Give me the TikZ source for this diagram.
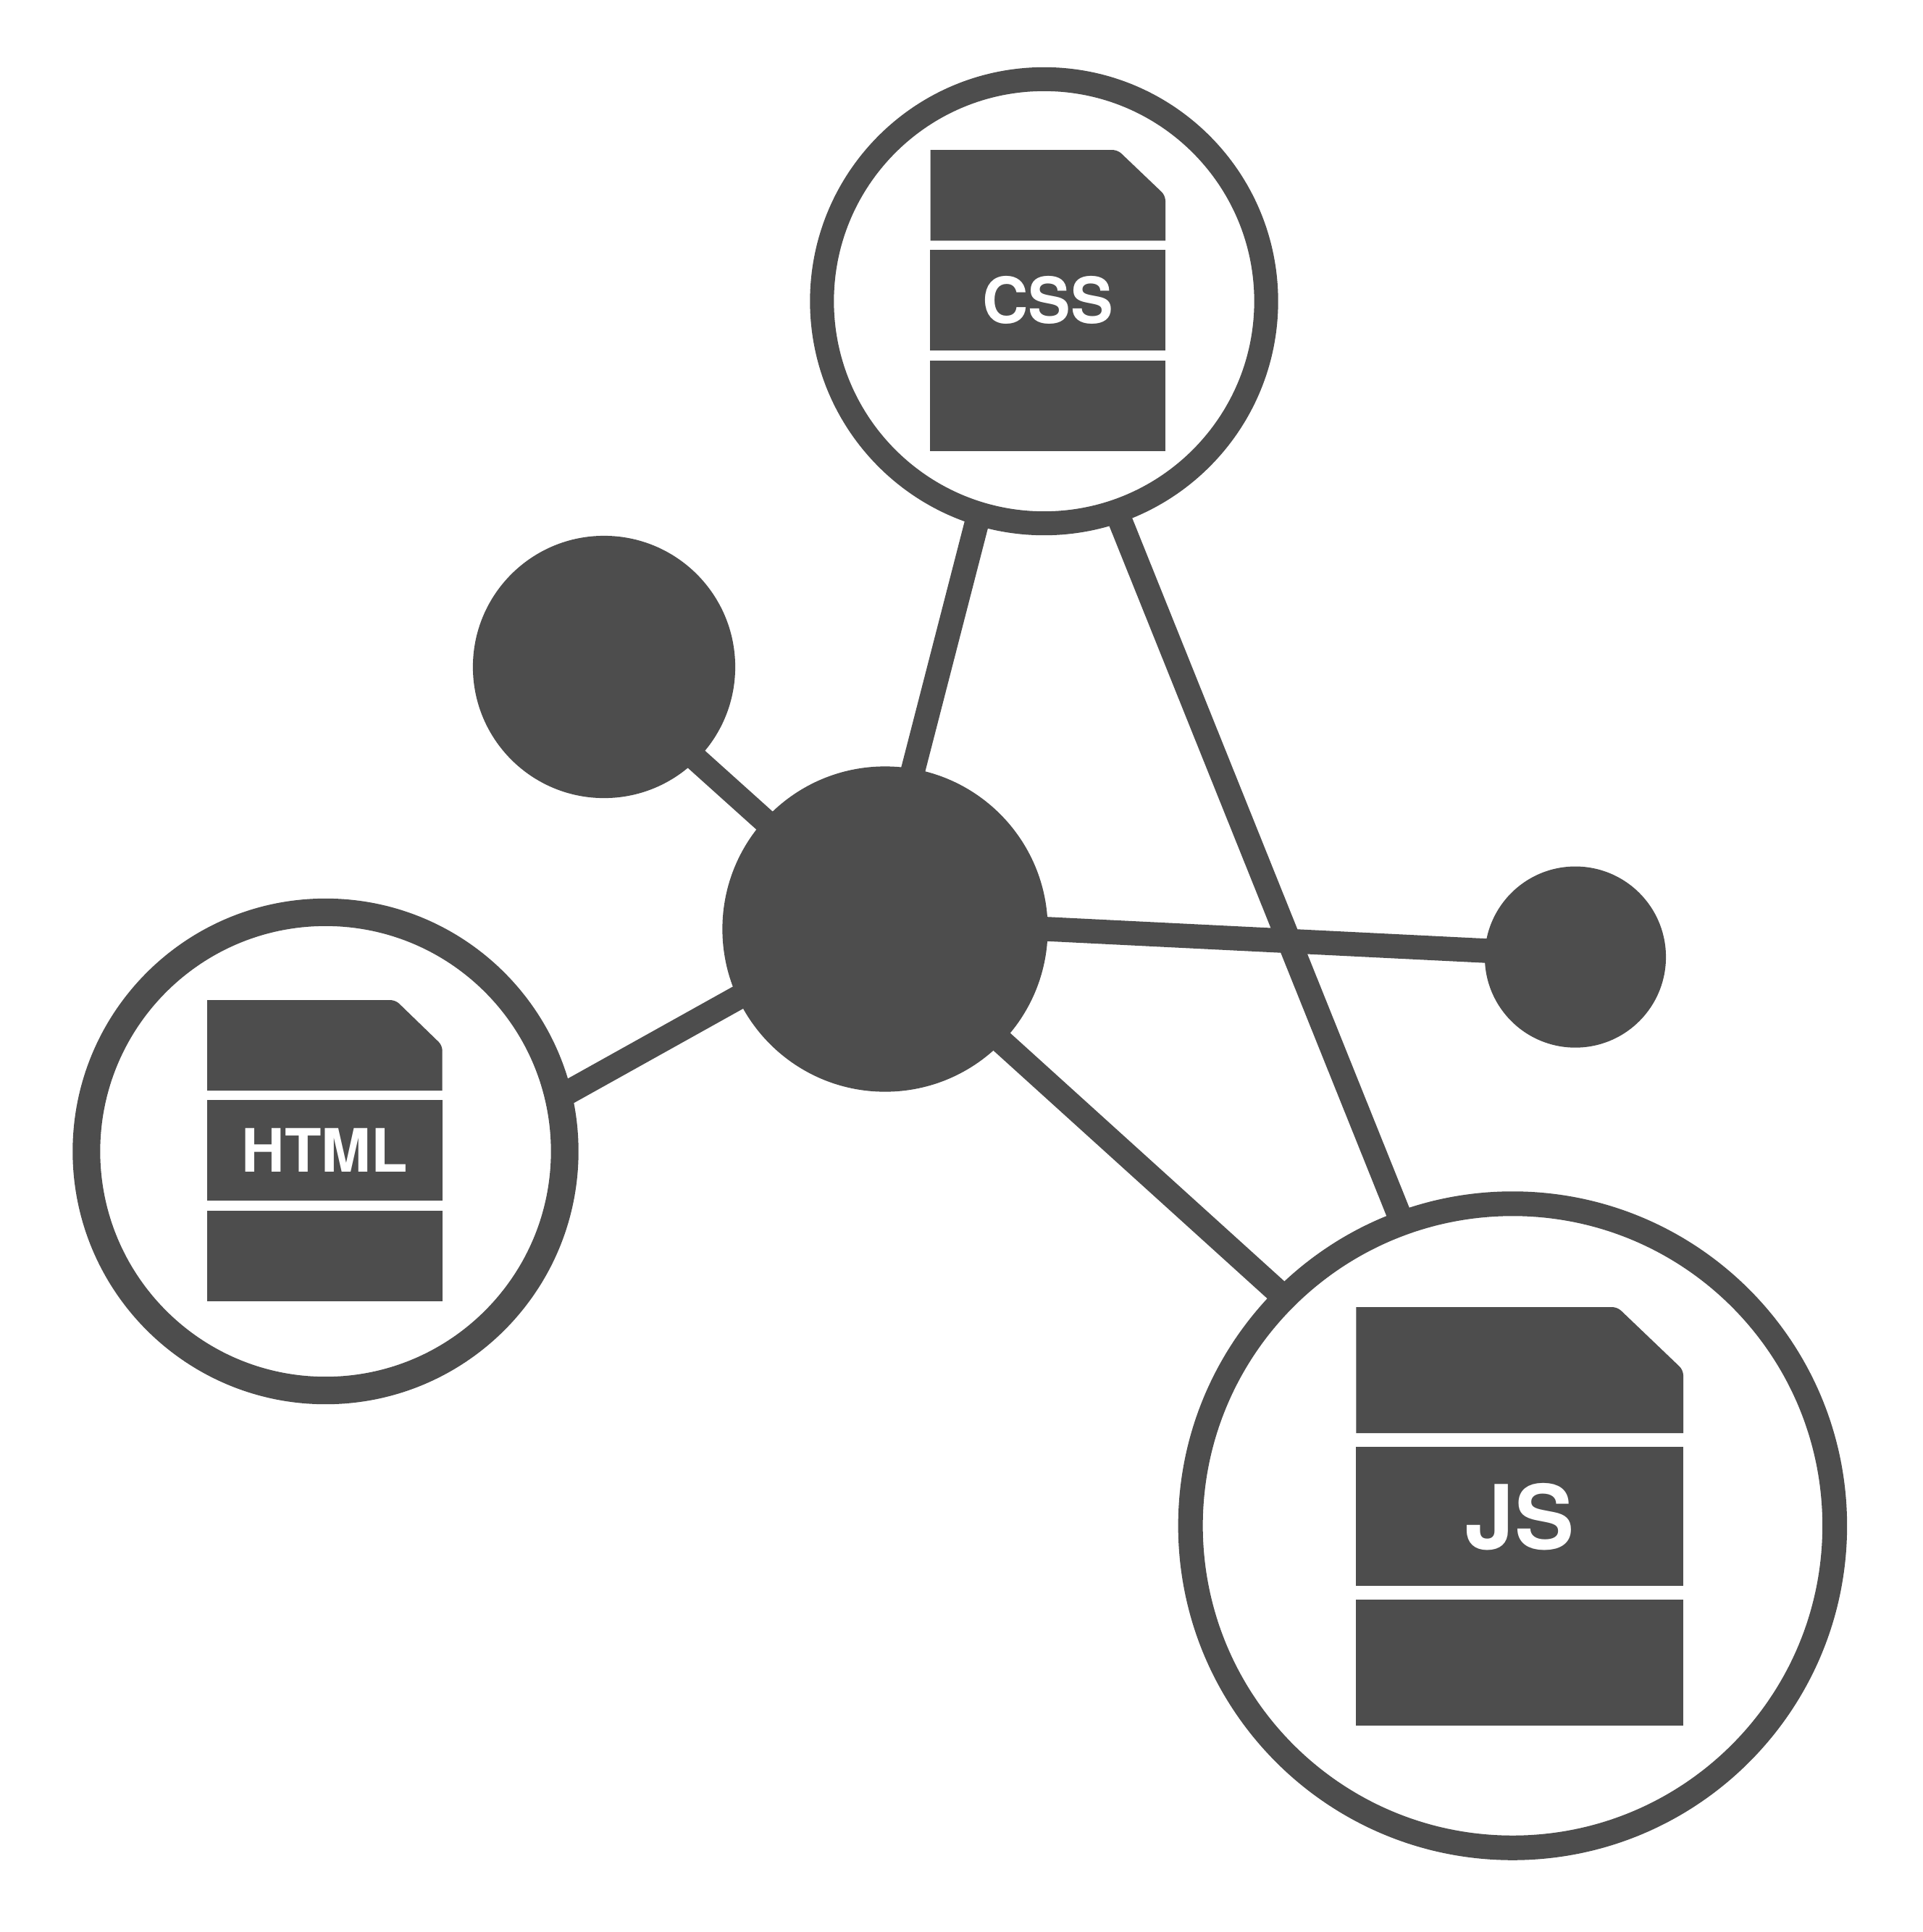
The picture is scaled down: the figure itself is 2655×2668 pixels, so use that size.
\documentclass[tikz,border=0pt]{standalone}
\usepackage{fontspec}
\newfontfamily\rotulo{TeX Gyre Heros}
\usetikzlibrary{positioning,backgrounds}
\definecolor{redgris}{RGB}{77,77,77}
\tikzset{
  punto/.style={circle, fill=redgris, inner sep=0pt, outer sep=0pt},
  anillo/.style={circle, draw=redgris, fill=white, inner sep=0pt, outer sep=0pt},
  enlace/.style={draw=redgris, line width=0.335cm, shorten <=-0.12cm, shorten >=-0.12cm},
  banda/.style={rectangle, fill=redgris, text=white, inner sep=0pt, outer sep=0pt,
                font=\rotulo\bfseries\fontsize{#1}{#1}\selectfont},
  banda/.default=24
}
\newcommand{\cabecera}[6]{%
  \fill[redgris] (#1,#4) -- (#1,#3) [rounded corners=2pt] -- (#5,#3) -- (#2,#6)
    [sharp corners] -- (#2,#4) -- cycle;}

\begin{document}
\begin{tikzpicture}[x=0.01cm, y=-0.01cm]
\useasboundingbox (0,0) rectangle (2655,2668);

\node[anillo, line width=0.33cm, minimum size=6.13cm] (css) at (1441.5,416) {};
\node[anillo, line width=0.38cm, minimum size=6.60cm] (html) at (449.5,1590) {};
\node[anillo, line width=0.34cm, minimum size=8.89cm] (js) at (2088.4,2107) {};
\node[punto, minimum size=3.62cm] (oscuro) at (834,921) {};
\node[punto, minimum size=4.49cm] (centro) at (1222,1283) {};
\node[punto, minimum size=2.50cm] (derecho) at (2175,1321.6) {};

\begin{scope}[on background layer]
\draw[enlace] (centro.80.4) -- (css.253.7);
\draw[enlace] (css.289.85) -- (js.110.6);
\draw[enlace] (centro.138.4) -- (oscuro.315.2);
\draw[enlace] (centro.0) -- (derecho.176);
\draw[enlace] (centro.205.5) -- (html.13.3);
\draw[enlace] (centro.316.6) -- (js.135.2);
\end{scope}

\cabecera{1284.5}{1609}{207}{332.3}{1543}{270}
\node[banda=25, minimum width=3.245cm, minimum height=1.384cm] (cssmedio) at (1446.75,414.5) {CSS};
\node[banda, minimum width=3.245cm, minimum height=1.253cm, below=0.14cm of cssmedio] (cssbajo) {};

\cabecera{286}{610.7}{1381}{1506}{546}{1443.7}
\node[banda=23.5, minimum width=3.247cm, minimum height=1.387cm] (htmlmedio) at (448.35,1588.65) {HTML};
\node[banda, minimum width=3.247cm, minimum height=1.253cm, below=0.137cm of htmlmedio] (htmlbajo) {};

\cabecera{1872.3}{2324}{1805}{1979}{2233}{1892}
\node[banda=35, minimum width=4.517cm, minimum height=1.923cm] (jsmedio) at (2098,2094.15) {JS};
\node[banda, minimum width=4.517cm, minimum height=1.74cm, below=0.187cm of jsmedio] (jsbajo) {};

\end{tikzpicture}
\end{document}
